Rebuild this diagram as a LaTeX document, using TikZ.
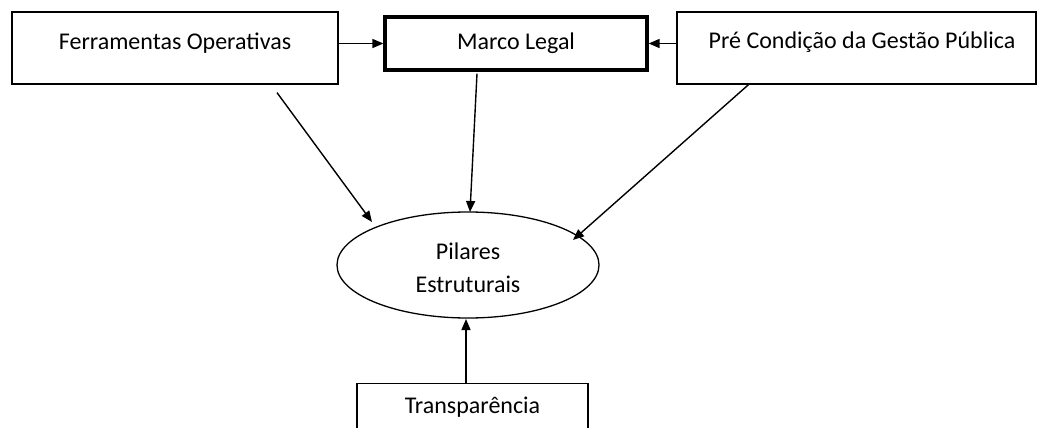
\documentclass[tikz,border=0pt]{standalone}
\usepackage{fontspec}
\setmainfont{Carlito}
\usetikzlibrary{arrows.meta,shapes.geometric,calc}
\begin{document}
\begin{tikzpicture}[x=1pt,y=-1pt,
  box/.style={draw=black,line width=1.3pt,rectangle,inner sep=0pt,align=center,font=\fontsize{24}{33}\selectfont,text height=16pt},
  thickbox/.style={box,line width=3.2pt},
  arr/.style={draw=black,line width=1.4pt,-{Triangle[length=11pt,width=9pt]}}]
\useasboundingbox (0,0) rectangle (1038,428);
\clip (0,0) rectangle (1038,428);
\node[box,minimum width=326pt,minimum height=72pt,text depth=12.6pt] (ferr) at (175,48) {Ferramentas Operativas};
\node[thickbox,minimum width=262pt,minimum height=53pt,text depth=4pt] (marco) at (516,43.5) {Marco Legal};
\node[box,minimum width=359pt,minimum height=72pt,text depth=14.6pt] (pre) at (856.5,48) {\hspace*{11pt}Pré Condição da Gestão Pública};
\node[draw=black,line width=1.3pt,ellipse,minimum width=262pt,minimum height=106pt,inner sep=0pt,align=center,font=\fontsize{24}{33}\selectfont] (pil) at (468,265) {\rule{0pt}{22pt}Pilares\\Estruturais};
\node[box,minimum width=231pt,minimum height=50pt,anchor=north,text depth=6.6pt] (trans) at (472.5,383) {Transparência};
\draw[arr] (ferr.east |- marco.west) -- (marco.west);
\draw[arr] (pre.west |- marco.east) -- (marco.east);
\draw[arr] ([shift={(102,8)}]ferr.south) -- ([shift={(-96,-43)}]pil.center);
\draw[arr] ([shift={(-39,2)}]marco.south) -- ([shift={(2,-53)}]pil.center);
\draw[arr] ([shift={(-108,0)}]pre.south) -- ([shift={(105,-25)}]pil.center);
\draw[arr] ([shift={(-6.5,0)}]trans.north) -- ([shift={(-2,54)}]pil.center);
\end{tikzpicture}
\end{document}
